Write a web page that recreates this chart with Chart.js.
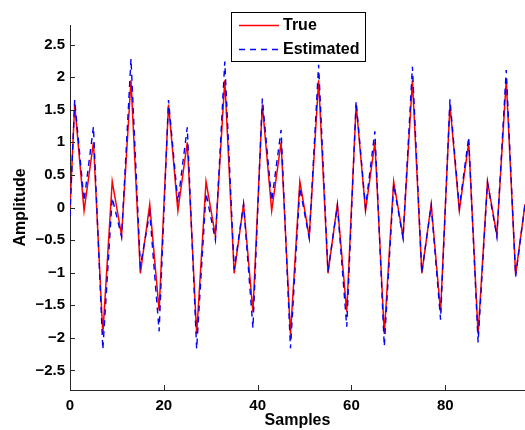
<!DOCTYPE html>
<html>
<head>
<meta charset="utf-8">
<script src="https://cdn.jsdelivr.net/npm/chart.js@4.4.0/dist/chart.umd.min.js"></script>
<style>
  html, body { margin: 0; padding: 0; background: #fff; }
  #wrap { width: 525px; height: 430px; }
</style>
</head>
<body>
<div id="wrap"><canvas id="sigChart" width="525" height="430"></canvas></div>
<script>
// sample positions where the curves turn
const samples = [0, 1, 3, 5, 7, 9, 11, 13, 15, 17, 19, 21, 23, 25, 27, 29, 31, 33, 35, 37, 39,
    41, 43, 45, 47, 49, 51, 53, 55, 57, 59, 61, 63, 65, 67, 69, 71, 73, 75, 77, 79,
    81, 83, 85, 87, 89, 91, 93, 95, 97];

const trueVals = [0,
    1.58, -0.05, 1.0, -1.94, 0.4, -0.43, 1.95, -1.01, 0.05, -1.58,
    1.58, -0.05, 1.0, -1.94, 0.4, -0.44, 1.95, -1.01, 0.05, -1.6,
    1.58, -0.05, 1.0, -1.95, 0.4, -0.45, 1.95, -1.01, 0.05, -1.6,
    1.58, -0.05, 1.0, -1.94, 0.4, -0.45, 1.95, -1.01, 0.05, -1.6,
    1.58, -0.05, 1.0, -1.94, 0.4, -0.42, 1.95, -1.03, 0.05];

const estVals = [-0.13,
    1.65, 0.1, 1.24, -2.18, 0.15, -0.45, 2.28, -0.9, -0.08, -1.9,
    1.65, 0.08, 1.23, -2.17, 0.22, -0.5, 2.24, -0.95, 0.05, -1.85,
    1.67, 0.1, 1.19, -2.16, 0.3, -0.47, 2.19, -0.98, 0.03, -1.83,
    1.63, 0.0, 1.17, -2.13, 0.35, -0.47, 2.16, -1.0, 0.03, -1.72,
    1.66, 0.0, 1.08, -2.07, 0.38, -0.45, 2.11, -1.06, 0.05];

const xTicks = [0, 20, 40, 60, 80];
const yTicks = [-2.5, -2, -1.5, -1, -0.5, 0, 0.5, 1, 1.5, 2, 2.5];
const seriesNames = ['True', 'Estimated'];
const seriesColors = ['#ff0000', '#0000ff'];
const seriesDash = [[], [6, 5]];

const FONT = "'Liberation Sans', Arial, sans-serif";
const AXIS_COLOR = '#262626';

function fmtTick(v) {
    return v < 0 ? '\u2212' + String(-v) : String(v);
}

// MATLAB style: ticks point into the plot, legend box sits at top centre
const matlabBits = {
    id: 'matlabBits',
    afterDraw(chart) {
        const ctx = chart.ctx;
        const area = chart.chartArea;
        const xs = chart.scales.x, ys = chart.scales.y;
        ctx.save();
        ctx.strokeStyle = AXIS_COLOR;
        ctx.lineWidth = 1;
        ctx.beginPath();
        xTicks.forEach(v => {
            const px = Math.round(xs.getPixelForValue(v)) + 0.5;
            ctx.moveTo(px, area.bottom);
            ctx.lineTo(px, area.bottom - 5);
        });
        yTicks.forEach(v => {
            const py = Math.round(ys.getPixelForValue(v)) + 0.5;
            ctx.moveTo(area.left, py);
            ctx.lineTo(area.left + 5, py);
        });
        ctx.stroke();

        // legend
        const bx = 231, by = 12, bw = 134, bh = 49;
        ctx.fillStyle = '#fff';
        ctx.fillRect(bx, by, bw, bh);
        ctx.strokeStyle = '#000';
        ctx.strokeRect(bx + 0.5, by + 0.5, bw, bh);
        seriesNames.forEach((name, i) => {
            const ry = by + 13 + i * 24;
            ctx.strokeStyle = seriesColors[i];
            ctx.lineWidth = 1.3;
            ctx.setLineDash(seriesDash[i]);
            ctx.beginPath();
            ctx.moveTo(bx + 8, ry + 0.5);
            ctx.lineTo(bx + 48, ry + 0.5);
            ctx.stroke();
            ctx.setLineDash([]);
            ctx.fillStyle = '#000';
            ctx.font = 'bold 16px ' + FONT;
            ctx.textBaseline = 'middle';
            ctx.fillText(name, bx + 52, ry + 1);
        });
        ctx.restore();
    }
};

const ctx = document.getElementById('sigChart').getContext('2d');
const myChart = new Chart(ctx, {
    type: 'line',
    data: {
        datasets: [
            {
                label: seriesNames[0],
                data: samples.map((s, i) => ({ x: s, y: trueVals[i] })),
                borderColor: seriesColors[0],
                borderWidth: 1.5,
                pointRadius: 0,
                tension: 0,
                order: 1
            },
            {
                label: seriesNames[1],
                data: samples.map((s, i) => ({ x: s, y: estVals[i] })),
                borderColor: seriesColors[1],
                borderWidth: 1.4,
                borderDash: seriesDash[1],
                pointRadius: 0,
                tension: 0,
                order: 0
            }
        ]
    },
    options: {
        responsive: false,
        animation: false,
        events: [],
        layout: { padding: { top: 25, right: 0, left: 0, bottom: 0 } },
        plugins: {
            legend: { display: false },
            tooltip: { enabled: false }
        },
        scales: {
            x: {
                type: 'linear',
                min: 0,
                max: 97,
                afterBuildTicks: s => { s.ticks = xTicks.map(v => ({ value: v })); },
                afterFit: s => { s.height = 40; },
                grid: { display: false, drawTicks: false },
                border: { display: true, color: AXIS_COLOR, width: 1 },
                ticks: {
                    padding: 7,
                    maxRotation: 0,
                    color: '#000',
                    font: { family: FONT, size: 15, weight: 'bold' },
                    callback: v => fmtTick(v)
                },
                title: {
                    display: true,
                    text: 'Samples',
                    color: '#000',
                    padding: { top: 0, bottom: 0 },
                    font: { family: FONT, size: 16, weight: 'bold' }
                }
            },
            y: {
                min: -2.8,
                max: 2.8,
                afterBuildTicks: s => { s.ticks = yTicks.map(v => ({ value: v })); },
                afterFit: s => { s.width = 70; },
                grid: { display: false, drawTicks: false },
                border: { display: true, color: AXIS_COLOR, width: 1 },
                ticks: {
                    padding: 5,
                    color: '#000',
                    font: { family: FONT, size: 15, weight: 'bold' },
                    callback: v => fmtTick(v)
                },
                title: {
                    display: true,
                    text: 'Amplitude',
                    color: '#000',
                    padding: { top: 11, bottom: 11 },
                    font: { family: FONT, size: 16, weight: 'bold' }
                }
            }
        }
    },
    plugins: [matlabBits]
});
</script>
</body>
</html>
